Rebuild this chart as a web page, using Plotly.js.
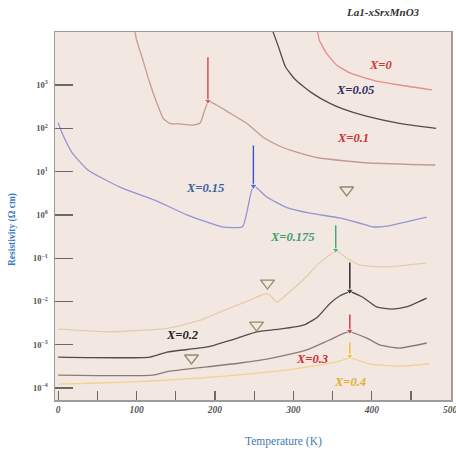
<!DOCTYPE html>
<html><head><meta charset="utf-8">
<script src="https://cdn.plot.ly/plotly-3.0.1.min.js"></script>
<style>html,body{margin:0;padding:0;background:#fff}</style>
</head><body><div id="chart" style="width:456px;height:450px"></div>
<script>
// ---- data (temperature in K, resistivity in Ohm cm) ----
const seriesNames = ['X=0','X=0.05','X=0.1','X=0.15','X=0.175','X=0.2','X=0.3','X=0.4'];

const T_x0   = [331, 333, 342, 355, 372, 401, 435, 477];
const R_x0   = [17000, 11000, 5500, 2900, 1900, 1300, 1000, 770];

const T_x005 = [274, 281, 290, 303, 324, 346, 363, 393, 435, 482];
const R_x005 = [17000, 7600, 2600, 1300, 650, 380, 280, 190, 130, 100];

const T_x01  = [98, 100, 108, 117, 126, 134, 142, 155, 172, 181, 187, 192, 202, 219, 240, 261, 282, 299, 333, 397, 481];
const R_x01  = [17000, 11000, 3800, 1100, 380, 170, 130, 126, 119, 132, 265, 420, 345, 225, 132, 63, 39, 30, 20.6, 15.8, 14.2];

const T_x015 = [0, 5, 18, 38, 81, 123, 165, 209, 235, 242, 247, 251, 266, 291, 321, 359, 384, 401, 419, 444, 470];
const R_x015 = [135, 78, 27, 10.9, 4.2, 2.2, 0.99, 0.53, 0.53, 1.5, 3.8, 4.5, 2.6, 1.5, 1.1, 0.85, 0.65, 0.53, 0.55, 0.69, 0.89];

const T_x0175 = [0, 66, 139, 181, 219, 248, 263, 270, 279, 295, 312, 333, 350, 355, 368, 384, 419, 469];
const R_x0175 = [0.0023, 0.0020, 0.0024, 0.0037, 0.0071, 0.0114, 0.0149, 0.0141, 0.0097, 0.0166, 0.031, 0.077, 0.132, 0.147, 0.101, 0.070, 0.063, 0.077];

const T_x02  = [0, 117, 139, 190, 232, 253, 282, 314, 331, 346, 359, 372, 388, 406, 426, 444, 470];
const R_x02  = [5.2e-4, 5.2e-4, 6.8e-4, 8.9e-4, 1.5e-3, 2.0e-3, 2.3e-3, 2.9e-3, 4.4e-3, 8.8e-3, 1.34e-2, 1.66e-2, 1.27e-2, 7.5e-3, 6.7e-3, 7.5e-3, 1.2e-2];

const T_x03  = [0, 121, 139, 190, 232, 274, 317, 346, 370, 393, 410, 435, 470];
const R_x03  = [2.0e-4, 2.0e-4, 2.4e-4, 3.1e-4, 3.8e-4, 5.0e-4, 7.6e-4, 1.29e-3, 1.98e-3, 1.44e-3, 9.9e-4, 8.4e-4, 1.1e-3];

const T_x04  = [0, 53, 117, 181, 244, 308, 359, 372, 397, 435, 473];
const R_x04  = [1.24e-4, 1.31e-4, 1.46e-4, 1.71e-4, 2.12e-4, 2.9e-4, 4.2e-4, 5.0e-4, 3.6e-4, 3.2e-4, 3.6e-4];

// structural transition markers (open triangles)
const markT = [368, 267, 253, 170];
const markR = [3.76, 0.0267, 2.86e-3, 4.95e-4];

// transition arrows: tip and tail positions
const arrowT    = [191, 249, 354, 372, 372, 372];
const arrowTipR = [427, 4.65, 0.154, 0.0175, 2.08e-3, 5.5e-4];
const arrowTailR = [4400, 40, 0.58, 0.08, 5.0e-3, 1.15e-3];

// tick labels
const yTickVals = [1e-4, 1e-3, 1e-2, 1e-1, 1, 10, 100, 1000];
const yTickText = ['10<sup>−4</sup>','10<sup>−3</sup>','10<sup>−2</sup>','10<sup>−1</sup>','10<sup>0</sup>','10<sup>1</sup>','10<sup>2</sup>','10<sup>3</sup>'];
const xTickVals = [0, 100, 200, 300, 400, 500];
const xTickText = ['0','100','200','300','400','500'];

// ---- styles ----
const lineColors = ['#e48e8a','#4e4e4e','#bf9d94','#9494d2','#e6cda9','#4e4e4e','#8c7a78','#f2d28e'];
const labelColors = ['#cc3b3b','#2b2b5e','#cc3333','#3a5fa0','#3aa070','#222222','#c83030','#e0b030'];
const labelPos = [[0.821,0.910],[0.758,0.842],[0.753,0.712],[0.379,0.576],[0.601,0.443],[0.321,0.177],[0.649,0.111],[0.745,0.049]];
const arrowColors = ['#d04848','#3355cc','#3caa6a','#222222','#cc3333','#e8c040'];

const Ts = [T_x0,T_x005,T_x01,T_x015,T_x0175,T_x02,T_x03,T_x04];
const Rs = [R_x0,R_x005,R_x01,R_x015,R_x0175,R_x02,R_x03,R_x04];

const traces = Ts.map((t,i)=>({
  x:t, y:Rs[i], type:'scatter', mode:'lines', name:seriesNames[i],
  line:{color:lineColors[i], width:1.3, shape:'spline', smoothing:0.5},
  hoverinfo:'skip'
}));
traces.push({x:markT, y:markR, type:'scatter', mode:'markers',
  marker:{symbol:'triangle-down-open', size:12, color:'#958a6a', line:{width:1.3, color:'#958a6a'}},
  hoverinfo:'skip'});
arrowT.forEach((t,i)=>{
  traces.push({x:[t,t], y:[arrowTailR[i], arrowTipR[i]], type:'scatter', mode:'lines+markers',
    line:{color:arrowColors[i], width:1.4},
    marker:{symbol:['circle','triangle-down'], size:[0,7], color:arrowColors[i]},
    hoverinfo:'skip'});
});

const serif = 'Liberation Serif, DejaVu Serif, serif';
const annotations = [];
seriesNames.forEach((n,i)=>{
  annotations.push({xref:'paper', yref:'paper', x:labelPos[i][0], y:labelPos[i][1], xanchor:'center', yanchor:'middle',
    text:n, showarrow:false,
    font:{family:serif, size:12.5, color:labelColors[i], style:'italic', weight:'bold'}});
});
annotations.push({xref:'paper', yref:'paper', x:0.828, y:1.054, xanchor:'center', yanchor:'middle', text:'La1-xSrxMnO3', showarrow:false,
  font:{family:serif, size:11, color:'#333', style:'italic', weight:'bold'}});
annotations.push({xref:'paper', yref:'paper', x:0.576, y:-0.114, xanchor:'center', yanchor:'middle', text:'Temperature (K)', showarrow:false,
  font:{family:serif, size:11.5, color:'#3d7ab0'}});
annotations.push({xref:'paper', yref:'paper', x:-0.106, y:0.462, xanchor:'center', yanchor:'middle', text:'Resistivity (Ω cm)', showarrow:false, textangle:-90,
  font:{family:serif, size:9.5, color:'#3d78c0', weight:'bold'}});

const layout = {
  width:456, height:450,
  margin:{l:55, r:5, t:32, b:50},
  paper_bgcolor:'#ffffff', plot_bgcolor:'#f3e7e2',
  showlegend:false,
  xaxis:{range:[-4,501], showgrid:false, zeroline:false,
    showline:true, mirror:true, linecolor:'#9c9c9c', linewidth:1.5,
    tickvals:xTickVals, ticktext:xTickText, ticklabeloverflow:'allow',
    ticks:'inside', ticklen:9, tickcolor:'#6a6a6a', tickwidth:1.2,
    minor:{dtick:50, tick0:0, ticks:'inside', ticklen:9, tickcolor:'#6a6a6a', tickwidth:1.2, showgrid:false},
    tickfont:{family:serif, size:9.5, color:'#555', style:'italic', weight:'bold'}},
  yaxis:{type:'log', range:[-4.275, 4.224], showgrid:false, zeroline:false,
    showline:true, mirror:true, linecolor:'#9c9c9c', linewidth:1.5,
    tickvals:yTickVals, ticktext:yTickText,
    ticks:'inside', ticklen:18, tickcolor:'#6a6a6a', tickwidth:1.2,
    ticklabelstandoff:4,
    tickfont:{family:serif, size:8.5, color:'#555', weight:'bold'}},
  annotations:annotations
};
Plotly.newPlot('chart', traces, layout, {staticPlot:true, displayModeBar:false});
</script>
</body></html>
